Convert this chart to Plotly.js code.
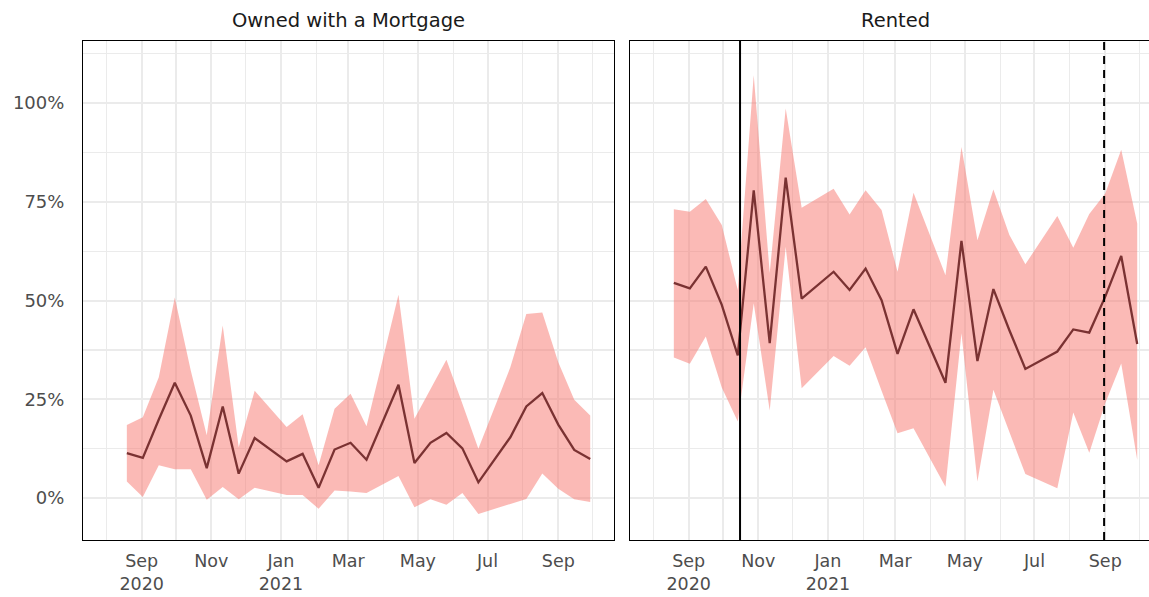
<!DOCTYPE html>
<html>
<head>
<meta charset="utf-8">
<script src="https://cdn.plot.ly/plotly-3.0.1.min.js"></script>
<style>
html,body{margin:0;padding:0;background:#ffffff;}
#chart{width:1149px;height:597px;}
</style>
</head>
<body>
<div id="chart"></div>
<script>
// ---------------- DATA ----------------
const weekStart = ["2020-08-19","2020-09-02","2020-09-16","2020-09-30","2020-10-14","2020-10-28","2020-11-11","2020-11-25","2020-12-09",
  "2021-01-06","2021-01-20","2021-02-03","2021-02-17","2021-03-03","2021-03-17","2021-04-14","2021-04-28","2021-05-12","2021-05-26",
  "2021-06-09","2021-06-23","2021-07-21","2021-08-04","2021-08-18","2021-09-01","2021-09-15","2021-09-29"];

const panelTitles = ["Owned with a Mortgage", "Rented"];

const mortgageEst = [11.4,10.2,19.9,29.2,20.9,7.6,23.2,6.2,15.2,9.3,11.2,2.6,12.3,14.0,9.7,28.7,8.9,14.0,16.5,12.6,4.0,15.4,23.2,26.6,18.6,12.2,9.9];
const mortgageHi  = [18.5,20.5,30.6,50.8,32.3,15.9,43.7,12.9,27.2,18.0,21.2,8.3,22.6,26.4,18.2,51.5,20.1,27.5,35.0,23.9,12.5,33.1,46.6,47.0,34.4,24.9,20.9];
const mortgageLo  = [4.2,0.3,8.3,7.3,7.3,-0.4,2.8,-0.3,2.6,0.8,0.8,-2.7,1.9,1.7,1.3,5.6,-2.3,-0.3,-1.7,1.3,-4.0,-1.4,-0.2,6.2,2.4,-0.3,-1.0];

const rentedEst = [54.5,53.1,58.6,48.9,36.1,77.9,39.2,81.1,50.5,57.3,52.7,58.1,50.1,36.5,47.8,29.2,65.1,34.7,52.9,42.5,32.7,37.1,42.7,41.9,51.0,61.3,39.0];
const rentedHi  = [73.1,72.5,75.7,69.1,52.7,107.0,57.0,98.6,73.5,78.3,71.8,77.9,72.9,57.3,77.3,56.4,88.9,65.3,78.1,66.6,59.2,71.4,63.4,71.9,77.1,88.2,69.5];
const rentedLo  = [35.6,34.0,40.9,28.0,19.4,49.3,22.2,63.6,27.8,36.0,33.5,38.2,27.2,16.4,17.7,2.9,41.7,4.2,27.4,16.8,6.1,2.5,21.7,11.5,24.0,34.1,9.7];

const vlineSolidDate  = "2020-10-16";
const vlineDashedDate = "2021-08-31";

const xTickVals  = ["2020-09-01","2020-11-01","2021-01-01","2021-03-01","2021-05-01","2021-07-01","2021-09-01"];
const xTickText  = ["Sep<br>2020","Nov","Jan<br>2021","Mar","May","Jul","Sep"];
const xMinorVals = ["2020-08-01","2020-10-01","2020-12-01","2021-02-01","2021-04-01","2021-06-01","2021-08-01","2021-10-01"];
const yTickVals  = [0,25,50,75,100];
const yTickText  = ["0%","25%","50%","75%","100%"];
const yMinorVals = [12.5,37.5,62.5,87.5,112.5];

// ---------------- STYLE / LAYOUT ----------------
const FONT = "'DejaVu Sans', 'Century Gothic', sans-serif";
const W = 1149, H = 597, ML = 83, MR = 0, MT = 41, MB = 57;
const PW = W - ML - MR, PH = H - MT - MB;
const leftDomain  = [0, (614 - ML) / PW];
const rightDomain = [(630 - ML) / PW, 1];
const xRangeLeft  = ["2020-07-11 14:00", "2021-10-19 20:00"];
const xRangeRight = ["2020-07-11 14:00", "2021-10-09 08:00"];
const yRange = [-10.6, 115.7];

const RIBBON = "rgba(248,118,109,0.5)";
const LINE = "#7A3232";
const GRID = "#EBEBEB";

function ribbonTraces(lo, hi, est, xa, ya) {
  return [
    {x: weekStart, y: lo, xaxis: xa, yaxis: ya, type: "scatter", mode: "lines",
     line: {width: 0, color: RIBBON}, showlegend: false, hoverinfo: "skip"},
    {x: weekStart, y: hi, xaxis: xa, yaxis: ya, type: "scatter", mode: "lines",
     line: {width: 0, color: RIBBON}, fill: "tonexty", fillcolor: RIBBON, showlegend: false, hoverinfo: "skip"},
    {x: weekStart, y: est, xaxis: xa, yaxis: ya, type: "scatter", mode: "lines",
     line: {width: 2.3, color: LINE}, showlegend: false}
  ];
}

const data = [].concat(
  ribbonTraces(mortgageLo, mortgageHi, mortgageEst, "x", "y"),
  ribbonTraces(rentedLo, rentedHi, rentedEst, "x2", "y2")
);

function xAxis(domain, range, anchor) {
  return {
    domain: domain, range: range, type: "date", anchor: anchor,
    tickmode: "array", tickvals: xTickVals, ticktext: xTickText,
    showgrid: true, gridcolor: GRID, gridwidth: 2,
    minor: {tickmode: "array", tickvals: xMinorVals, showgrid: true, gridcolor: GRID, gridwidth: 1.2, ticks: ""},
    showline: true, mirror: true, linecolor: "#000000", linewidth: 1,
    ticks: "", ticklabelstandoff: 5,
    tickfont: {family: FONT, size: 17.5, color: "#4D4D4D"},
    zeroline: false, fixedrange: true
  };
}
function yAxis(showLabels, mirror, anchor) {
  return {
    domain: [0, 1], range: yRange, anchor: anchor,
    tickmode: "array", tickvals: yTickVals, ticktext: yTickText,
    showticklabels: showLabels,
    showgrid: true, gridcolor: GRID, gridwidth: 2,
    minor: {tickmode: "array", tickvals: yMinorVals, showgrid: true, gridcolor: GRID, gridwidth: 1.2, ticks: ""},
    showline: true, mirror: mirror, linecolor: "#000000", linewidth: 1,
    ticks: "", ticklabelstandoff: 14,
    tickfont: {family: FONT, size: 18, color: "#4D4D4D"},
    zeroline: false, fixedrange: true
  };
}

const titleY = 1 + (MT - 20) / PH;
const layout = {
  width: W, height: H,
  margin: {l: ML, r: MR, t: MT, b: MB, pad: 0},
  paper_bgcolor: "#ffffff", plot_bgcolor: "#ffffff",
  font: {family: FONT, color: "#1A1A1A"},
  showlegend: false,
  xaxis: xAxis(leftDomain, xRangeLeft, "y"),
  yaxis: yAxis(true, true, "x"),
  xaxis2: xAxis(rightDomain, xRangeRight, "y2"),
  yaxis2: yAxis(false, false, "x2"),
  shapes: [
    {type: "line", xref: "x2", yref: "y2 domain", x0: vlineSolidDate, x1: vlineSolidDate, y0: 0, y1: 1,
     line: {color: "#000000", width: 2}, layer: "above"},
    {type: "line", xref: "x2", yref: "y2 domain", x0: vlineDashedDate, x1: vlineDashedDate, y0: 0, y1: 1,
     line: {color: "#000000", width: 2, dash: "8px,6px"}, layer: "above"}
  ],
  annotations: [
    {text: panelTitles[0], xref: "paper", yref: "paper", x: (348.5 - ML) / PW, y: titleY,
     xanchor: "center", yanchor: "middle", showarrow: false,
     font: {family: FONT, size: 19.5, color: "#1A1A1A"}},
    {text: panelTitles[1], xref: "paper", yref: "paper", x: (895.5 - ML) / PW, y: titleY,
     xanchor: "center", yanchor: "middle", showarrow: false,
     font: {family: FONT, size: 19.5, color: "#1A1A1A"}}
  ]
};

Plotly.newPlot("chart", data, layout, {displayModeBar: false, staticPlot: true});
</script>
</body>
</html>
